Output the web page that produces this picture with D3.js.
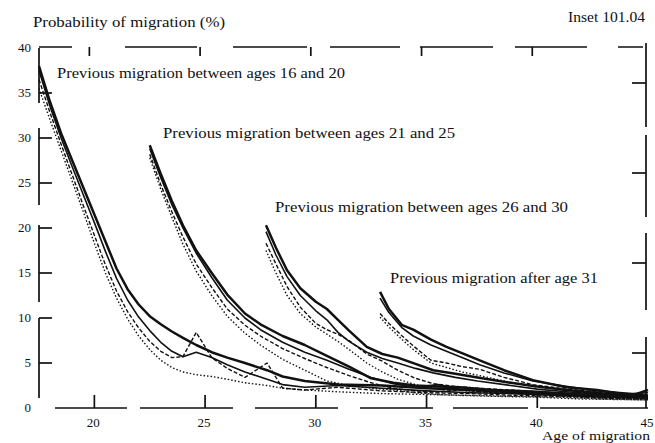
<!DOCTYPE html>
<html>
<head>
<meta charset="utf-8">
<script src="https://cdn.jsdelivr.net/npm/d3@7"></script>
<style>
  html, body { margin: 0; padding: 0; background: #fff; }
  svg { display: block; }
  text { font-family: "Liberation Serif", "DejaVu Serif", serif; fill: #111; }
</style>
</head>
<body>
<svg id="chart" width="655" height="443"></svg>
<script>
// ---- Data: probability of migration (%) by age, grouped by age at previous migration ----

// Previous migration between ages 16 and 20
const g1Ages    = [17.5,18,18.5,19,19.5,20,20.5,21,21.5,22,22.5,23,23.5,24,24.6,25.3,26,26.8,27.8,28.5,29.5,31,33,35,37,39,41,43,45];
const g1Thick   = [38,34,30.5,27.5,24.5,21.5,18.5,15.5,13.2,11.5,10.2,9.3,8.5,7.8,7,6.2,5.6,5,4.2,3.5,3,2.6,2.5,2.2,2.0,1.8,1.6,1.4,1.3];
const g1Solid   = [37.5,33.5,30,26.8,23.7,20.6,17.4,14.4,12,10.1,8.6,7.3,6.3,5.7,6.2,5.6,4.8,4.0,3.2,2.6,2.3,2.5,2.2,1.9,1.7,1.6,1.4,1.2,1.1];
const g1Dashed  = [36.5,32.8,29.3,25.9,22.5,19.2,15.9,13,10.7,8.9,7.4,6.3,5.6,5.7,8.4,5.6,4.4,3.4,5.0,2.2,2.0,2.3,1.9,1.7,1.6,1.4,1.3,1.1,1.0];
const g1Dotted  = [35.5,32,28.6,25.2,21.8,18.3,15,12.2,9.9,8,6.5,5.3,4.5,4.0,3.7,3.5,3.2,2.8,2.5,2.2,2.0,1.8,1.6,1.5,1.4,1.3,1.2,1.0,0.9];

// Previous migration between ages 21 and 25
const g2Ages    = [22.5,23,23.5,24,24.6,25.3,26,26.8,27.5,28.5,29.5,30.5,31.5,32.5,33.5,34.5,35.5,36.5,38,40,42,45];
const g2Thick   = [29.2,26,23,20.3,17.5,15,12.6,10.5,9.3,8,7.0,5.8,4.6,3.3,2.8,2.5,2.4,2.3,2.0,1.8,1.5,1.3];
const g2Solid   = [28.8,25.6,22.6,20,17.2,14.5,12,10,8.7,7.3,6.2,5.3,4.3,3.4,2.7,2.3,2.6,2.1,1.8,1.6,1.4,1.2];
const g2Dashed  = [28.2,24.8,21.8,19,16,13.4,11,9.2,8.0,6.6,5.5,4.5,3.6,2.8,2.2,1.9,1.8,2.0,1.7,1.5,1.3,1.1];
const g2Dotted  = [27.8,24.3,21.2,18.2,15.2,12.5,10.2,8.3,7.0,5.4,4.2,3.0,2.5,2.2,2.0,1.7,1.5,1.4,1.3,1.2,1.0,0.9];

// Previous migration between ages 26 and 30
const g3Ages    = [27.75,28.2,28.7,29.3,30,30.5,31,31.5,32.3,33,33.7,34.5,35.3,36.3,37.3,38.8,40,41.3,43,45];
const g3Thick   = [20.3,17.8,15.3,13.3,11.8,11.0,9.8,8.6,6.8,6.0,5.6,4.9,4.2,3.8,3.4,2.8,2.4,2.0,1.6,1.4];
const g3Solid   = [19.6,17,14.6,12.5,10.8,9.8,8.4,7.4,6.2,5.5,5.0,4.4,3.9,3.4,3.0,2.5,2.1,1.8,1.5,1.3];
const g3Dashed  = [18.3,16,13.5,11.2,9.4,8.7,8.2,7.5,6.0,5.2,4.2,3.3,2.7,2.4,2.2,2.0,1.8,1.6,1.4,1.2];
const g3Dotted  = [17.5,15,12.5,10.5,9.0,8.2,7.4,6.5,5.0,4.0,3.2,2.6,2.2,2.0,1.8,1.6,1.5,1.3,1.1,1.0];

// Previous migration after age 31
const g4Ages    = [32.9,33.3,33.9,34.4,35.2,35.9,36.6,37.4,38.5,39.8,41.3,42.7,44.3,45];
const g4Thick   = [12.9,11.0,9.2,8.7,7.6,6.8,6.1,5.3,4.2,3.1,2.3,2.0,1.4,2.0];
const g4Solid   = [12.2,10.6,8.9,8.0,7.0,6.3,5.6,4.8,3.9,3.0,2.4,1.9,1.6,1.7];
const g4Dashed  = [10.5,9.4,8.0,6.9,5.3,5.0,4.6,4.3,3.4,2.6,2.1,1.8,1.5,1.4];
const g4Dotted  = [10.1,9.0,7.6,6.5,5.0,4.5,4.0,3.6,3.0,2.4,2.0,1.6,1.3,1.2];

// Axis ticks and labels
const xTicks = [20, 25, 30, 35, 40, 45];
const yTicks = [0, 5, 10, 15, 20, 25, 30, 35, 40];
const groupLabels = [
  "Previous migration between ages 16 and 20",
  "Previous migration between ages 21 and 25",
  "Previous migration between ages 26 and 30",
  "Previous migration after age 31"
];
const yTitle = "Probability of migration (%)";
const xTitle = "Age of migration";
const insetNote = "Inset 101.04";

// ---- Layout ----
const svg = d3.select("#chart");
const x = d3.scaleLinear().domain([17.5, 45]).range([39, 648]);
const y = d3.scaleLinear().domain([0, 40]).range([408, 48]);
const ink = "#111";

svg.append("rect").attr("width", 655).attr("height", 443).attr("fill", "#fff");

// Line styles for the four curves in each group
const styles = {
  thick:  { w: 2.5, dash: null },
  solid:  { w: 1.6, dash: null },
  dashed: { w: 1.4, dash: "4,2" },
  dotted: { w: 1.4, dash: "1.5,2" }
};

const groups = [
  { ages: g1Ages, series: { thick: g1Thick, solid: g1Solid, dashed: g1Dashed, dotted: g1Dotted } },
  { ages: g2Ages, series: { thick: g2Thick, solid: g2Solid, dashed: g2Dashed, dotted: g2Dotted } },
  { ages: g3Ages, series: { thick: g3Thick, solid: g3Solid, dashed: g3Dashed, dotted: g3Dotted } },
  { ages: g4Ages, series: { thick: g4Thick, solid: g4Solid, dashed: g4Dashed, dotted: g4Dotted } }
];

const line = d3.line().x(d => x(d[0])).y(d => y(d[1]));

const plot = svg.append("g");
groups.forEach(g => {
  ["dotted", "dashed", "solid", "thick"].forEach(k => {
    const pts = g.ages.map((a, i) => [a, g.series[k][i]]);
    plot.append("path")
      .datum(pts)
      .attr("d", line)
      .attr("fill", "none")
      .attr("stroke", ink)
      .attr("stroke-width", styles[k].w)
      .attr("stroke-linejoin", "round")
      .attr("stroke-dasharray", styles[k].dash);
  });
});

// ---- Frame (broken rules as printed) ----
const frame = svg.append("g").attr("stroke", ink).attr("stroke-width", 1.7).attr("fill", "none");
frame.append("line").attr("x1", x.range()[0]).attr("x2", x.range()[0]).attr("y1", y(40)).attr("y2", y(0))
  .attr("stroke-dasharray", "55,25,77,20,77,16,80,10");
frame.append("line").attr("x1", x.range()[0]).attr("x2", x.range()[1]).attr("y1", y(0)).attr("y2", y(0))
  .attr("stroke-dasharray", "0,16,72,13,93,22,83,22,73,20,75,12,110");
frame.append("line").attr("x1", x.range()[0]).attr("x2", 643).attr("y1", y(40) - 1).attr("y2", y(40) - 1)
  .attr("stroke-dasharray", "33,53,72,36,74,23,70,20,73,22,72,31,25");
frame.append("line").attr("x1", 646).attr("x2", 646).attr("y1", 43).attr("y2", y(0))
  .attr("stroke-dasharray", "84,8,82,16,77,27,71");

// Inward ticks
const tk = svg.append("g").attr("stroke", ink).attr("stroke-width", 1.7);
xTicks.filter(t => t < 45).forEach(t => {
  tk.append("line").attr("x1", x(t)).attr("x2", x(t)).attr("y1", y(0)).attr("y2", y(0) - 13);
  tk.append("line").attr("x1", x(t) - 5).attr("x2", x(t) - 5).attr("y1", y(40) - 1).attr("y2", y(40) + 8);
});
yTicks.filter(t => t > 0 && t < 40).forEach(t => {
  tk.append("line").attr("x1", x.range()[0]).attr("x2", x.range()[0] + 13).attr("y1", y(t)).attr("y2", y(t));
  if (t % 10 === 5) {
    tk.append("line").attr("x1", 646).attr("x2", 632).attr("y1", y(t) - 10).attr("y2", y(t) - 10);
  }
});

// Tick labels
const lab = svg.append("g").attr("font-size", 13);
yTicks.forEach(t => {
  lab.append("text").attr("x", 31).attr("y", y(t) + 4).attr("text-anchor", "end").text(t);
});
xTicks.forEach(t => {
  lab.append("text").attr("x", x(t) - 1).attr("y", 427).attr("text-anchor", "middle").text(t);
});

// Titles
svg.append("text").attr("x", 33).attr("y", 27).attr("font-size", 14)
  .attr("textLength", 192).attr("lengthAdjust", "spacingAndGlyphs").text(yTitle);
svg.append("text").attr("x", 568).attr("y", 22).attr("font-size", 14)
  .attr("textLength", 77).attr("lengthAdjust", "spacingAndGlyphs").text(insetNote);
svg.append("text").attr("x", 542).attr("y", 440).attr("font-size", 13)
  .attr("textLength", 108).attr("lengthAdjust", "spacingAndGlyphs").text(xTitle);

// Group annotations
const notePos = [
  { x: 57,  y: 78,  w: 288 },
  { x: 163, y: 138, w: 292 },
  { x: 275, y: 212, w: 293 },
  { x: 390, y: 283, w: 208 }
];
groupLabels.forEach((s, i) => {
  svg.append("text").attr("x", notePos[i].x).attr("y", notePos[i].y).attr("font-size", 15)
    .attr("textLength", notePos[i].w).attr("lengthAdjust", "spacingAndGlyphs").text(s);
});
</script>
</body>
</html>
